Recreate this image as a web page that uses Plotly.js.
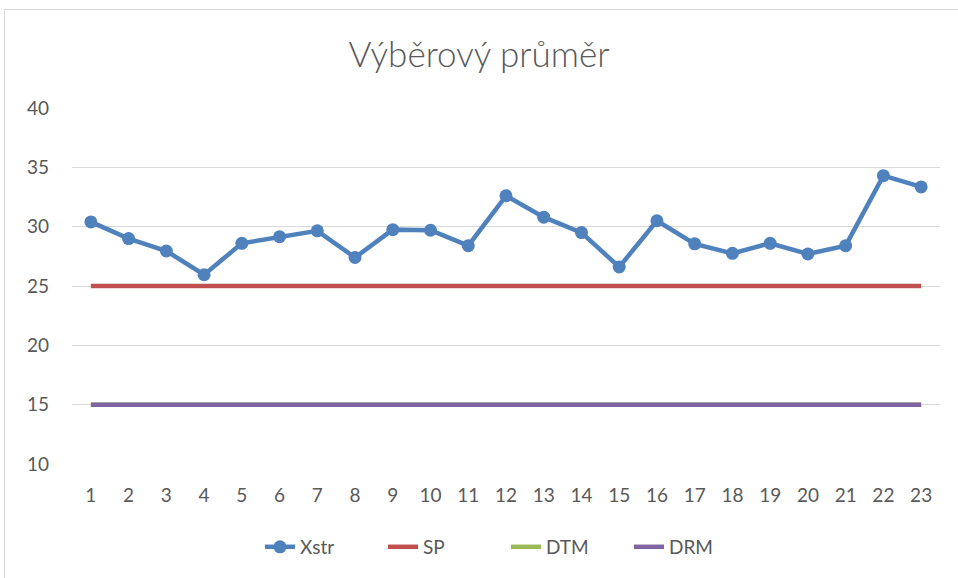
<!DOCTYPE html>
<html><head><meta charset="utf-8">
<script src="https://cdn.plot.ly/plotly-3.0.1.min.js"></script>
<style>
html,body{margin:0;padding:0;background:#fff;}
#frame{position:absolute;left:4px;top:9px;width:960px;height:575px;border:1px solid #d9d9d9;box-sizing:border-box;}
#chart{position:absolute;left:0;top:0;width:958px;height:578px;}
</style></head>
<body>
<div id="frame"></div>
<div id="chart"></div>
<script>
const categories = ["1","2","3","4","5","6","7","8","9","10","11","12","13","14","15","16","17","18","19","20","21","22","23"];
const xstr = [30.4,29.0,27.95,25.95,28.6,29.15,29.65,27.4,29.75,29.7,28.4,32.6,30.8,29.5,26.6,30.5,28.55,27.75,28.6,27.7,28.4,34.3,33.35];
const sp  = [25,25,25,25,25,25,25,25,25,25,25,25,25,25,25,25,25,25,25,25,25,25,25];
const dtm = [15,15,15,15,15,15,15,15,15,15,15,15,15,15,15,15,15,15,15,15,15,15,15];
const drm = [15,15,15,15,15,15,15,15,15,15,15,15,15,15,15,15,15,15,15,15,15,15,15];
const yTicks = [10,15,20,25,30,35,40];

const traces = [
  {x: categories, y: xstr, name: "Xstr", type: "scatter", mode: "lines+markers",
   line: {color: "#4f81bd", width: 4.5}, marker: {color: "#4f81bd", size: 13}},
  {x: categories, y: sp, name: "SP", type: "scatter", mode: "lines",
   line: {color: "#c0504d", width: 4.5}},
  {x: categories, y: dtm, name: "DTM", type: "scatter", mode: "lines",
   line: {color: "#9bbb59", width: 4.5}},
  {x: categories, y: drm, name: "DRM", type: "scatter", mode: "lines",
   line: {color: "#8064a2", width: 4.5}}
];

const layout = {
  width: 958, height: 578,
  paper_bgcolor: "rgba(0,0,0,0)", plot_bgcolor: "rgba(0,0,0,0)",
  margin: {l: 72, r: 18, t: 108, b: 114},
  font: {family: "Lato, sans-serif", color: "#595959", size: 19},
  title: {text: "Výběrový průměr", x: 0.5, xanchor: "center", y: 0.905, yanchor: "middle",
          font: {family: "Lato, sans-serif", size: 35, color: "#595959", weight: 300}},
  xaxis: {type: "category", range: [-0.5, 22.5], showgrid: false, zeroline: false,
          showline: false, ticks: "", ticklabelstandoff: 18,
          tickfont: {size: 19, color: "#595959"}},
  yaxis: {range: [10, 40], tickvals: yTicks, showgrid: true, gridcolor: "#d9d9d9", gridwidth: 1,
          zeroline: false, showline: false, ticks: "", ticklabelstandoff: 22,
          tickfont: {size: 19, color: "#595959"}},
  showlegend: true,
  legend: {orientation: "h", x: 0.5, xanchor: "center", y: -0.233, yanchor: "middle",
           font: {size: 19, color: "#595959"}, entrywidth: 78, entrywidthmode: "pixels",
           traceorder: "normal"}
};

Plotly.newPlot("chart", traces, layout, {displayModeBar: false, staticPlot: true});
</script>
</body></html>
